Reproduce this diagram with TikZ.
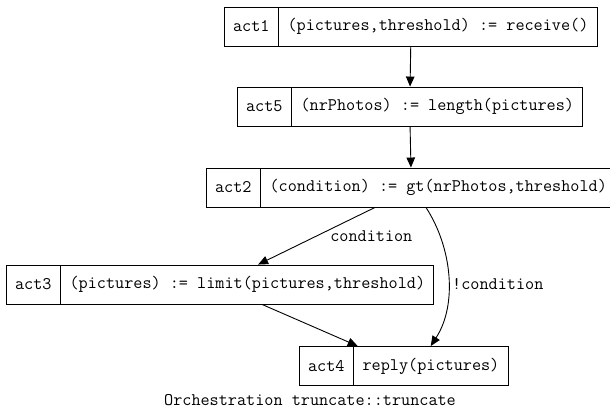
\documentclass[tikz,border=0pt]{standalone}
\usepackage{fontspec}
\usetikzlibrary{positioning, shapes.multipart, arrows.meta}

\tikzset{
    act/.style={draw, line width=0.9pt, rectangle split, rectangle split horizontal,
        rectangle split parts=2, inner xsep=8.6pt, minimum height=39pt},
    flow/.style={line width=0.9pt, -{Triangle[length=10pt, width=8.5pt]}}
}

\begin{document}
\begin{tikzpicture}[x=1pt, y=-1pt, font=\ttfamily\fontsize{17.7}{20}\selectfont] % one unit per pixel
    \useasboundingbox (0,0) rectangle (610,412);

    % Receive
    \node[act, anchor=west] (act1) at (224,26.5) {act1 \nodepart{two} (pictures,threshold) := receive()};

    % Length
    \node[act, anchor=west] (act5) at (237,106.5) {act5 \nodepart{two} (nrPhotos) := length(pictures)};

    % Compare
    \node[act, anchor=west] (act2) at (206,187.5) {act2 \nodepart{two} (condition) := gt(nrPhotos,threshold)};

    % Limit
    \node[act, anchor=west] (act3) at (6,284.5) {act3 \nodepart{two} (pictures) := limit(pictures,threshold)};

    % Reply
    \node[act, anchor=west] (act4) at (299,366) {act4 \nodepart{two} reply(pictures)};

    % Caption
    \node (title) at (310,400) {Orchestration truncate::truncate};

    % Arrows
    \draw[flow] (act1.south) -- (act5.north);
    \draw[flow] (act5.south) -- (act2.north);
    \draw[flow] ([xshift=-36pt]act2.south) -- node[midway, right=10pt] {condition} ([xshift=38pt]act3.north);
    \draw[flow] ([xshift=15pt]act2.south) to[out=-57, in=57, looseness=0.9] node[pos=0.55, right=0pt] {!condition} ([xshift=27pt]act4.north);
    \draw[flow] ([xshift=42pt]act3.south) -- ([xshift=-46pt]act4.north);
\end{tikzpicture}
\end{document}
